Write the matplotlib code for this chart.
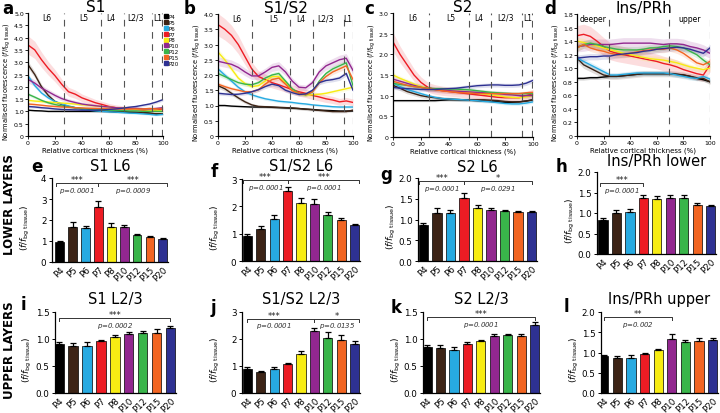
import numpy as np
import matplotlib
matplotlib.use('Agg')
import matplotlib.pyplot as plt
from matplotlib.lines import Line2D

W, H = 720, 414

ages = ['P4', 'P5', 'P6', 'P7', 'P8', 'P10', 'P12', 'P15', 'P20']
colors = ['#000000', '#3d2416', '#27aae1', '#ed1c24', '#f7ec13',
          '#92278f', '#39b54a', '#f26522', '#2e3192']

depth = [0, 5, 10, 15, 20, 25, 30, 35, 40, 45, 50, 55, 60, 65, 70, 75, 80, 85, 90, 95, 100]

# ---------------- line profiles (a-d) ----------------
s1_profiles = [
    [1.05, 1.03, 1.02, 1.0, 1.0, 1.0, 1.0, 1.0, 1.0, 1.0, 1.0, 1.0, 1.0, 0.98, 0.97, 0.96, 0.95, 0.95, 0.93, 0.9, 0.9],
    [2.9, 2.5, 2.0, 1.65, 1.4, 1.28, 1.2, 1.15, 1.1, 1.07, 1.05, 1.03, 1.0, 1.0, 1.0, 0.98, 0.97, 0.95, 0.92, 0.9, 0.9],
    [2.45, 2.05, 1.75, 1.55, 1.4, 1.3, 1.22, 1.15, 1.1, 1.05, 1.02, 1.0, 0.98, 0.97, 0.95, 0.93, 0.92, 0.9, 0.88, 0.85, 0.88],
    [3.7, 3.5, 3.1, 2.75, 2.45, 2.1, 1.8, 1.7, 1.55, 1.45, 1.35, 1.28, 1.2, 1.15, 1.12, 1.1, 1.08, 1.05, 1.0, 1.05, 1.1],
    [1.45, 1.42, 1.4, 1.38, 1.36, 1.34, 1.32, 1.3, 1.27, 1.25, 1.22, 1.2, 1.18, 1.15, 1.12, 1.1, 1.08, 1.07, 1.05, 1.05, 1.0],
    [2.3, 2.15, 1.95, 1.8, 1.65, 1.52, 1.43, 1.36, 1.3, 1.26, 1.23, 1.2, 1.18, 1.15, 1.13, 1.12, 1.12, 1.1, 1.1, 1.12, 1.15],
    [1.7, 1.58, 1.45, 1.35, 1.28, 1.22, 1.18, 1.15, 1.12, 1.1, 1.08, 1.06, 1.05, 1.04, 1.03, 1.02, 1.02, 1.0, 1.0, 1.0, 1.0],
    [1.3, 1.28, 1.25, 1.22, 1.2, 1.18, 1.17, 1.15, 1.14, 1.13, 1.12, 1.11, 1.1, 1.1, 1.1, 1.1, 1.1, 1.1, 1.12, 1.1, 1.1],
    [1.2, 1.18, 1.15, 1.13, 1.1, 1.08, 1.07, 1.06, 1.05, 1.05, 1.05, 1.06, 1.08, 1.1, 1.13, 1.17, 1.2, 1.25, 1.3, 1.38, 1.48],
]
s1s2_profiles = [
    [1.0, 1.0, 0.98, 0.97, 0.96, 0.95, 0.95, 0.95, 0.94, 0.93, 0.92, 0.91, 0.9, 0.88, 0.87, 0.85, 0.84, 0.83, 0.82, 0.82, 0.82],
    [1.65, 1.55, 1.4, 1.25, 1.12, 1.02, 0.97, 0.96, 0.95, 0.94, 0.93, 0.92, 0.9, 0.88, 0.86, 0.84, 0.82, 0.8, 0.8, 0.8, 0.85],
    [2.2, 2.0, 1.8, 1.6, 1.45, 1.35, 1.28, 1.22, 1.18, 1.14, 1.12, 1.1, 1.07, 1.05, 1.02, 1.0, 0.98, 0.96, 0.95, 0.95, 0.95],
    [3.65, 3.5, 3.3, 3.0, 2.6, 2.2, 1.95, 1.85, 1.75, 1.68, 1.6, 1.52, 1.45, 1.4, 1.33, 1.28, 1.22, 1.18, 1.12, 1.15, 1.1],
    [2.75, 2.5, 2.2, 1.9, 1.72, 1.62, 1.65, 1.8, 1.95, 1.95, 1.75, 1.5, 1.38, 1.35, 1.35, 1.37, 1.4, 1.45, 1.5, 1.55, 1.6],
    [2.45, 2.4, 2.35, 2.25, 2.1, 1.97, 1.97, 2.1, 2.25, 2.3, 2.1, 1.8, 1.6, 1.58, 1.75, 2.1, 2.3, 2.4, 2.5, 2.55, 2.15],
    [2.05, 1.95, 1.85, 1.75, 1.7, 1.68, 1.75, 1.9, 2.0, 2.05, 1.8, 1.55, 1.4, 1.35, 1.45, 1.8, 2.05, 2.2, 2.3, 2.4, 1.65],
    [1.7, 1.62, 1.55, 1.5, 1.45, 1.45, 1.52, 1.7, 1.85, 1.9, 1.7, 1.48, 1.4, 1.36, 1.45, 1.75, 1.95, 2.1, 2.2, 2.3, 1.85],
    [1.4, 1.38, 1.36, 1.37, 1.4, 1.45, 1.52, 1.62, 1.7, 1.65, 1.5, 1.42, 1.36, 1.38, 1.5, 1.75, 1.82, 1.85, 1.9, 2.05, 1.5],
]
s2_profiles = [
    [0.88, 0.88, 0.88, 0.88, 0.88, 0.88, 0.88, 0.89, 0.9, 0.9, 0.9, 0.89, 0.88, 0.87, 0.86, 0.85, 0.84, 0.84, 0.85, 0.87, 0.9],
    [1.25, 1.18, 1.1, 1.05, 1.0, 0.97, 0.95, 0.93, 0.92, 0.91, 0.9, 0.9, 0.9, 0.9, 0.89, 0.88, 0.86, 0.85, 0.85, 0.87, 0.9],
    [1.3, 1.22, 1.15, 1.1, 1.05, 1.0, 0.96, 0.93, 0.92, 0.91, 0.9, 0.89, 0.88, 0.86, 0.85, 0.83, 0.81, 0.8, 0.8, 0.82, 0.85],
    [2.3, 2.0, 1.75, 1.5, 1.32, 1.2, 1.15, 1.12, 1.1, 1.08, 1.06, 1.04, 1.02, 1.0, 0.98, 0.96, 0.95, 0.95, 0.95, 1.0, 1.05],
    [1.5, 1.42, 1.35, 1.28, 1.22, 1.18, 1.15, 1.13, 1.12, 1.11, 1.1, 1.08, 1.06, 1.04, 1.02, 1.0, 0.97, 0.96, 0.95, 0.97, 1.0],
    [1.4, 1.35, 1.3, 1.25, 1.2, 1.17, 1.15, 1.13, 1.12, 1.11, 1.1, 1.09, 1.08, 1.07, 1.06, 1.05, 1.03, 1.02, 1.0, 1.0, 1.0],
    [1.3, 1.27, 1.25, 1.22, 1.2, 1.18, 1.17, 1.17, 1.16, 1.16, 1.15, 1.14, 1.12, 1.1, 1.08, 1.07, 1.06, 1.05, 1.05, 1.05, 1.05],
    [1.35, 1.3, 1.25, 1.22, 1.2, 1.17, 1.15, 1.12, 1.1, 1.08, 1.07, 1.06, 1.05, 1.05, 1.05, 1.05, 1.05, 1.05, 1.05, 1.07, 1.08],
    [1.2, 1.18, 1.17, 1.16, 1.15, 1.15, 1.15, 1.16, 1.17, 1.18, 1.2, 1.22, 1.24, 1.25, 1.26, 1.26, 1.25, 1.25, 1.26, 1.3, 1.37],
]
ins_profiles = [
    [0.85, 0.85, 0.86, 0.86, 0.87, 0.88, 0.88, 0.89, 0.9, 0.91, 0.92, 0.92, 0.92, 0.92, 0.92, 0.91, 0.9, 0.88, 0.85, 0.83, 0.8],
    [1.15, 1.05, 1.0, 0.95, 0.9, 0.88, 0.88, 0.89, 0.9, 0.91, 0.92, 0.92, 0.92, 0.92, 0.92, 0.91, 0.9, 0.88, 0.86, 0.85, 0.8],
    [1.15, 1.1, 1.05, 1.0, 0.95, 0.9, 0.9, 0.91, 0.92, 0.93, 0.93, 0.93, 0.93, 0.93, 0.92, 0.9, 0.88, 0.86, 0.85, 0.88, 0.84],
    [1.48, 1.5, 1.47, 1.4, 1.32, 1.25, 1.22, 1.2, 1.18, 1.16, 1.14, 1.12, 1.1, 1.07, 1.05, 1.02, 0.98, 0.95, 0.92, 0.9, 1.05],
    [1.4, 1.38, 1.35, 1.33, 1.3, 1.27, 1.25, 1.22, 1.2, 1.18, 1.16, 1.14, 1.13, 1.12, 1.1, 1.08, 1.05, 1.02, 1.0, 0.98, 1.0],
    [1.32, 1.33, 1.35, 1.35, 1.35, 1.35, 1.36, 1.37, 1.37, 1.37, 1.37, 1.37, 1.36, 1.35, 1.36, 1.36, 1.35, 1.32, 1.3, 1.27, 1.22],
    [1.3, 1.35, 1.37, 1.35, 1.32, 1.3, 1.28, 1.27, 1.27, 1.27, 1.28, 1.3, 1.3, 1.32, 1.33, 1.32, 1.3, 1.25, 1.2, 1.12, 1.05],
    [1.3, 1.35, 1.3, 1.27, 1.25, 1.22, 1.2, 1.2, 1.22, 1.24, 1.26, 1.27, 1.28, 1.28, 1.3, 1.27, 1.22, 1.15, 1.08, 1.05, 1.1],
    [1.15, 1.16, 1.17, 1.17, 1.18, 1.18, 1.2, 1.21, 1.22, 1.23, 1.25, 1.26, 1.28, 1.29, 1.3, 1.31, 1.3, 1.28, 1.25, 1.22, 1.3],
]
# relative width of the shaded SEM band per age
band_frac = [0.03, 0.05, 0.04, 0.1, 0.04, 0.06, 0.04, 0.04, 0.04]

# ---------------- bar data (e-l) ----------------
s1_l6 = [0.95, 1.65, 1.6, 2.6, 1.68, 1.68, 1.3, 1.2, 1.1]
s1_l6_err = [0.04, 0.25, 0.1, 0.3, 0.18, 0.1, 0.05, 0.03, 0.03]
s1s2_l6 = [0.93, 1.17, 1.55, 2.55, 2.12, 2.1, 1.7, 1.5, 1.32]
s1s2_l6_err = [0.05, 0.1, 0.12, 0.15, 0.2, 0.18, 0.1, 0.08, 0.04]
s2_l6 = [0.87, 1.15, 1.15, 1.52, 1.28, 1.23, 1.2, 1.17, 1.17]
s2_l6_err = [0.05, 0.12, 0.07, 0.12, 0.07, 0.05, 0.03, 0.03, 0.03]
ins_lower = [0.84, 1.0, 1.03, 1.37, 1.33, 1.37, 1.37, 1.2, 1.17]
ins_lower_err = [0.04, 0.08, 0.07, 0.08, 0.08, 0.08, 0.07, 0.04, 0.03]
s1_l23 = [0.9, 0.87, 0.87, 0.97, 1.03, 1.1, 1.12, 1.12, 1.21]
s1_l23_err = [0.05, 0.05, 0.07, 0.02, 0.04, 0.03, 0.03, 0.06, 0.04]
s1s2_l23 = [0.9, 0.78, 0.9, 1.07, 1.45, 2.28, 2.03, 1.97, 1.83]
s1s2_l23_err = [0.05, 0.05, 0.06, 0.05, 0.1, 0.13, 0.22, 0.18, 0.1]
s2_l23 = [0.85, 0.84, 0.79, 0.91, 0.96, 1.06, 1.08, 1.06, 1.26]
s2_l23_err = [0.03, 0.05, 0.07, 0.03, 0.02, 0.03, 0.02, 0.04, 0.05]
ins_upper = [0.91, 0.86, 0.87, 0.97, 1.05, 1.33, 1.25, 1.28, 1.32]
ins_upper_err = [0.02, 0.05, 0.07, 0.03, 0.03, 0.12, 0.07, 0.08, 0.05]


def rect(l, t, r, b):
    return [l / W, 1 - b / H, (r - l) / W, (b - t) / H]


def style_axes(ax):
    for s in ['top', 'right']:
        ax.spines[s].set_visible(False)
    for s in ['left', 'bottom']:
        ax.spines[s].set_linewidth(0.9)


def line_panel(rc, profiles, ymax, ystep, bounds, labels, label_x, title, letter, letter_xy):
    ax = fig.add_axes(rect(*rc))
    style_axes(ax)
    for prof, c, bf in zip(profiles, colors, band_frac):
        prof = np.array(prof)
        ax.fill_between(depth, prof * (1 - bf), prof * (1 + bf), color=c, alpha=0.15, lw=0)
        ax.plot(depth, prof, color=c, lw=1.0)
    for b in bounds:
        ax.axvline(b, color='#555555', lw=0.8, dashes=(6, 5))
    for lab, lx in zip(labels, label_x):
        ax.text(lx, ymax * 0.965, lab, fontsize=5.5, ha='center', va='center')
    ax.set_xlim(0, 100)
    ax.set_ylim(0, ymax)
    ax.set_xticks([0, 20, 40, 60, 80, 100])
    yt = np.arange(0, ymax + 1e-6, ystep)
    ax.set_yticks(yt)
    ax.set_yticklabels(['0'] + ['%.1f' % v for v in yt[1:]])
    ax.tick_params(labelsize=4.5, length=2, width=0.6, pad=1)
    ax.set_xlabel('Relative cortical thickness (%)', fontsize=5, labelpad=1)
    ax.set_ylabel(r'Normalised fluorescence $(f/f_{\rm bg\ tissue})$', fontsize=4.8, labelpad=1)
    ax.yaxis.set_label_coords(-0.11, 0.45)
    cx = (rc[0] + rc[2]) / 2
    fig.text(cx / W, 1 - 8 / H, title, fontsize=11, ha='center', va='center')
    fig.text(letter_xy[0] / W, 1 - letter_xy[1] / H, letter, fontsize=12,
             fontweight='bold', ha='left', va='center')
    return ax


def bar_panel(rc, vals, errs, ymax, yticks, ylabels, xlim, title, title_y, letter, letter_xy, brackets):
    ax = fig.add_axes(rect(*rc))
    style_axes(ax)
    x = np.arange(len(ages))
    ax.bar(x, vals, width=0.68, color=colors, edgecolor='black', linewidth=0.5, zorder=2)
    ax.errorbar(x, vals, yerr=[np.zeros(len(vals)), errs], fmt='none', ecolor='black',
                elinewidth=0.9, capsize=2.2, capthick=0.9, zorder=3)
    ax.set_xlim(*xlim)
    ax.set_ylim(0, ymax)
    ax.set_yticks(yticks)
    ax.set_yticklabels(ylabels)
    ax.set_xticks(x)
    ax.set_xticklabels(ages, rotation=45, ha='right', rotation_mode='anchor')
    ax.tick_params(labelsize=6.3, length=2.5, width=0.7, pad=1.5)
    ax.tick_params(axis='x', length=0)
    ax.set_ylabel(r'$(f/f_{\rm bg\ tissue})$', fontsize=6.5, labelpad=3)
    ax.yaxis.set_label_coords(-0.17, 0.42)
    tick = ymax * 0.035
    for x0, x1, y, stars, ptxt, tx in brackets:
        ax.plot([x0, x0, x1, x1], [y - tick, y, y, y - tick], color='#333333', lw=0.7, clip_on=False)
        ax.text(tx, y - tick * 0.3, stars, fontsize=6, ha='center', va='bottom', color='#222222')
        ax.text(tx, y - tick * 0.6, r'$p$=' + ptxt, fontsize=5, ha='center', va='top',
                color='#333333', style='italic')
    cx = (rc[0] + rc[2]) / 2
    fig.text(cx / W, 1 - title_y / H, title, fontsize=10.5, ha='center', va='center')
    fig.text(letter_xy[0] / W, 1 - letter_xy[1] / H, letter, fontsize=12,
             fontweight='bold', ha='left', va='center')
    return ax


fig = plt.figure(figsize=(W / 100, H / 100), dpi=100)

ax_a = line_panel((28, 14, 163, 137), s1_profiles, 5.0, 0.5,
                  [27, 54, 71, 92, 99], ['L6', 'L5', 'L4', 'L2/3', 'L1'], [14, 41, 61, 80, 96],
                  'S1', 'a', (2, 9))
handles = [Line2D([], [], marker='s', ls='none', color=c, markersize=2.5) for c in colors]
ax_a.legend(handles, ages, loc='upper left', bbox_to_anchor=(1.0, 1.0), fontsize=4,
            frameon=False, handlelength=0.6, handletextpad=0.2, labelspacing=0.15,
            borderaxespad=0.1, borderpad=0.1)

line_panel((218, 15, 353, 137), s1s2_profiles, 4.0, 0.5,
           [25, 53, 70, 93, 100], ['L6', 'L5', 'L4', 'L2/3', 'L1'], [14, 41, 61, 80, 96],
           'S1/S2', 'b', (184, 9))
line_panel((393, 14, 533, 138), s2_profiles, 3.0, 0.5,
           [26, 54, 70, 92, 99], ['L6', 'L5', 'L4', 'L2/3', 'L1'], [14, 41, 61, 80, 96],
           'S2', 'c', (364, 9))
line_panel((577, 15, 710, 137), ins_profiles, 1.8, 0.2,
           [24, 69, 100], ['deeper', 'upper'], [12, 85],
           'Ins/PRh', 'd', (544, 9))

bar_panel((52, 179, 168, 263), s1_l6, s1_l6_err, 4, [0, 1, 2, 3, 4], ['0', '1', '2', '3', '4'],
          (-0.6, 8.4), 'S1 L6', 167, 'e', (31, 167),
          [(-0.3, 3.0, 3.77, '***', '0.0001', 1.35), (3.0, 8.3, 3.77, '***', '0.0009', 5.7)])
bar_panel((242, 180, 360, 262), s1s2_l6, s1s2_l6_err, 3, [0, 1, 2, 3], ['0', '1', '2', '3'],
          (-0.4, 8.4), 'S1/S2 L6', 167, 'f', (211, 172),
          [(-0.3, 3.0, 2.95, '***', '0.0001', 1.35), (3.0, 8.3, 2.95, '***', '0.0001', 5.7)])
bar_panel((418, 179, 537, 262), s2_l6, s2_l6_err, 2.0, [0, 0.5, 1.0, 1.5, 2.0],
          ['0.0', '0.5', '1.0', '1.5', '2.0'],
          (-0.4, 8.4), 'S2 L6', 168, 'g', (380, 175),
          [(-0.3, 3.0, 1.92, '***', '0.0001', 1.35), (3.0, 8.0, 1.92, '*', '0.0291', 5.5)])
bar_panel((597, 173, 716, 255), ins_lower, ins_lower_err, 2.0, [0, 0.5, 1.0, 1.5, 2.0],
          ['0.0', '0.5', '1.0', '1.5', '2.0'],
          (-0.45, 8.4), 'Ins/PRh lower', 162, 'h', (556, 167),
          [(-0.2, 3.0, 1.72, '***', '0.0001', 1.4)])

bar_panel((55, 313, 176, 394), s1_l23, s1_l23_err, 1.5, [0, 0.5, 1.0, 1.5],
          ['0.0', '0.5', '1.0', '1.5'],
          (-0.3, 8.4), 'S1 L2/3', 300, 'i', (21, 305),
          [(0.0, 8.0, 1.39, '***', '0.0002', 4.0)])
bar_panel((242, 313, 360, 394), s1s2_l23, s1s2_l23_err, 3, [0, 1, 2, 3], ['0', '1', '2', '3'],
          (-0.4, 8.4), 'S1/S2 L2/3', 300, 'j', (211, 308),
          [(0.0, 5.0, 2.75, '***', '0.0001', 2.0), (5.0, 8.3, 2.75, '*', '0.0135', 6.7)])
bar_panel((423, 313, 540, 394), s2_l23, s2_l23_err, 1.5, [0, 0.5, 1.0, 1.5],
          ['0.0', '0.5', '1.0', '1.5'],
          (-0.3, 8.4), 'S2 L2/3', 300, 'k', (391, 308),
          [(0.0, 8.0, 1.4, '***', '0.0001', 4.0)])
bar_panel((601, 313, 718, 394), ins_upper, ins_upper_err, 2.0, [0, 0.5, 1.0, 1.5, 2.0],
          ['0.0', '0.5', '1.0', '1.5', '2.0'],
          (-0.2, 8.4), 'Ins/PRh upper', 300, 'l', (564, 307),
          [(0.0, 5.0, 1.87, '**', '0.002', 2.5)])

fig.text(10 / W, 1 - 205 / H, 'LOWER LAYERS', rotation=90, fontsize=8.5, fontweight='bold',
         ha='center', va='center')
fig.text(10 / W, 1 - 350 / H, 'UPPER LAYERS', rotation=90, fontsize=8.5, fontweight='bold',
         ha='center', va='center')

fig.savefig('out.png', dpi=100)
